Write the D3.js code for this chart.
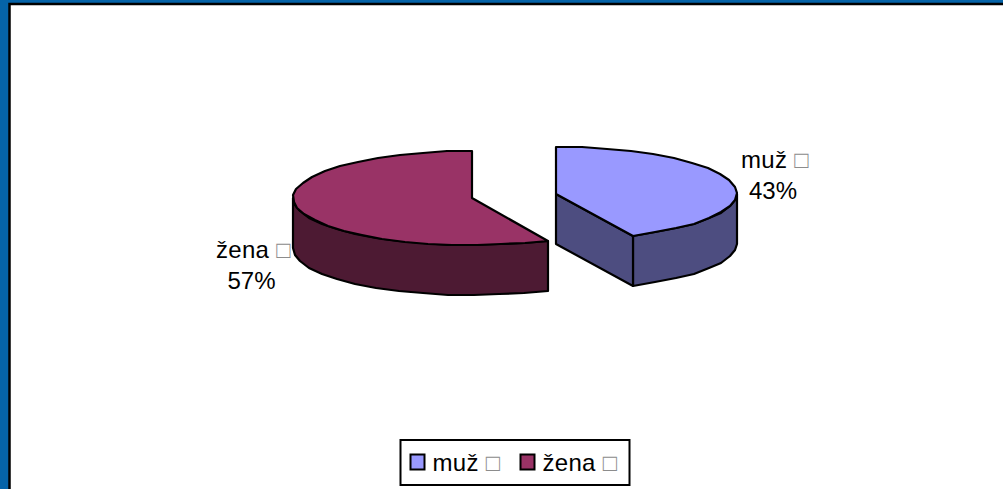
<!DOCTYPE html>
<html><head><meta charset="utf-8">
<script src="https://cdn.jsdelivr.net/npm/d3@7"></script>
<style>html,body{margin:0;padding:0;background:#fff;overflow:hidden}svg{display:block}text{font-family:"Liberation Sans",Arial,sans-serif;fill:#000}</style>
</head><body><svg id="c" width="1003" height="489"></svg>
<script>
const categories = ["muž", "žena"];
const values = [43, 57];
const topColors = ["#9999FF", "#993366"];
const sideColors = ["#4D4D80", "#4D1A33"];
const GLYPH = "\u25A1";

const svg = d3.select("#c");
svg.append("rect").attr("width",1003).attr("height",489).attr("fill","#0563A8");
svg.append("rect").attr("x",9.5).attr("y",4).attr("width",1000).attr("height",490).attr("fill","#fff").attr("stroke","#000").attr("stroke-width",2.5);

const depth = 50, step = 8 * Math.PI / 180;
const geo = [{c:[556,193.5],rx:181,ry:46.5},{c:[472,198],rx:179,ry:47}];
const pie = d3.pie().sort(null).value(d=>d);
const arcs = pie(values);
const total = d3.sum(values);
const line = d3.line().x(d=>Math.round(d[0])).y(d=>Math.round(d[1]));
const pt = (g,a,z=0)=>[g.c[0]+g.rx*Math.sin(a), g.c[1]-g.ry*Math.cos(a)+z];
const angles = (a0,a1)=>{const n=Math.max(1,Math.round((a1-a0)/step));return d3.range(n+1).map(i=>a0+(a1-a0)*i/n);};
const stroke = s=>s.attr("stroke","#000").attr("stroke-width",2.2).attr("stroke-linejoin","round");
const chart = svg.append("g");

arcs.forEach((d,i)=>{
  const q = geo[i], c = q.c, g = chart.append("g");
  const a0 = Math.max(d.startAngle, Math.PI/2), a1 = Math.min(d.endAngle, 3*Math.PI/2);
  const rim = angles(a0,a1);
  const wall = rim.map(a=>pt(q,a)).concat(rim.slice().reverse().map(a=>pt(q,a,depth)));
  stroke(g.append("path").attr("d",line(wall)+"Z").attr("fill",sideColors[i]));
  if (Math.sin(d.endAngle) > 0.01) {
    const tip = pt(q,d.endAngle);
    const face = [c,tip,[tip[0],tip[1]+depth],[c[0],c[1]+depth]];
    stroke(g.append("path").attr("d",line(face)+"Z").attr("fill",sideColors[i]));
  }
  const top = [c].concat(angles(d.startAngle,d.endAngle).map(a=>pt(q,a)));
  stroke(g.append("path").attr("d",line(top)+"Z").attr("fill",topColors[i]));
});

const labelPos = [[775,168],[253.5,258]];
const fs = 24;
categories.forEach((name,i)=>{
  const t = svg.append("text").attr("font-size",fs).attr("text-anchor","middle");
  const p = labelPos[i];
  const l1 = t.append("tspan").attr("x",p[0]).attr("y",p[1]).attr("letter-spacing",0.3).text(name+" ");
  l1.append("tspan").attr("style","fill:#8C8C8C").text(GLYPH);
  t.append("tspan").attr("x",p[0]-2).attr("y",p[1]+31).text(Math.round(values[i]/total*100)+"%");
});

// legend
const lg = svg.append("g");
lg.append("rect").attr("x",400.5).attr("y",440).attr("width",229).attr("height",45).attr("fill","#fff").attr("stroke","#000").attr("stroke-width",2);
const swX = d3.scaleOrdinal().domain(categories).range([410.5,520.5]);
categories.forEach((name,i)=>{
  lg.append("rect").attr("x",swX(name)).attr("y",454.5).attr("width",14).attr("height",15).attr("fill",topColors[i]).attr("stroke","#000").attr("stroke-width",2);
  const t = lg.append("text").attr("x",swX(name)+22).attr("y",471).attr("font-size",fs).attr("letter-spacing",0.3);
  t.append("tspan").text(name+" ");
  t.append("tspan").attr("style","fill:#8C8C8C").text(GLYPH);
});
</script></body></html>
